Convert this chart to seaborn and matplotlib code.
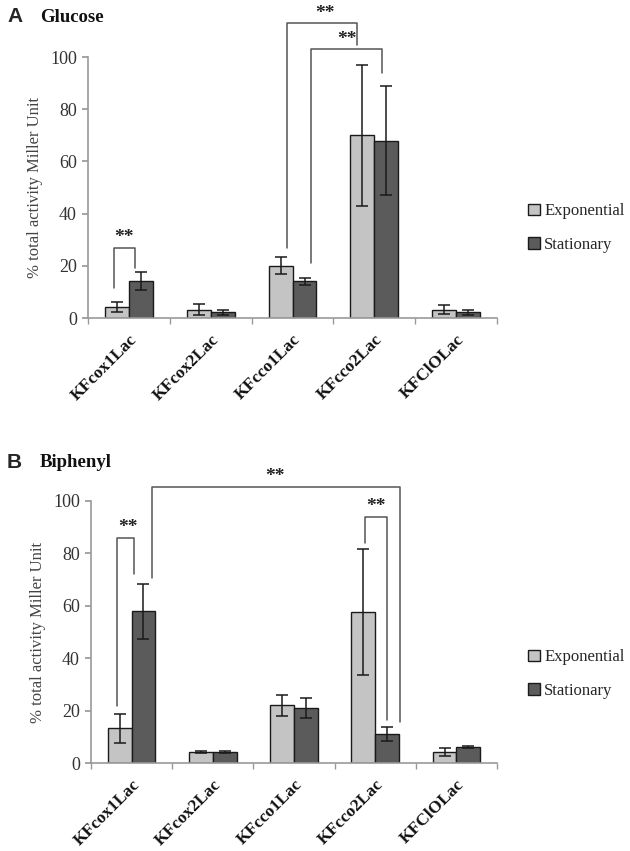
import numpy as np
import pandas as pd
import matplotlib
matplotlib.use("Agg")
import matplotlib.pyplot as plt
import seaborn as sns
from matplotlib.patches import Patch

categories = ["KFcox1Lac", "KFcox2Lac", "KFcco1Lac", "KFcco2Lac", "KFClOLac"]
phases = ["Exponential", "Stationary"]

glucose_exp = [4.2, 3.2, 20.0, 70.0, 3.2]
glucose_exp_err = [2.0, 2.2, 3.2, 27.0, 1.8]
glucose_sta = [14.2, 2.2, 14.0, 68.0, 2.2]
glucose_sta_err = [3.3, 1.0, 1.2, 21.0, 1.0]

biphenyl_exp = [13.2, 4.2, 22.0, 57.5, 4.2]
biphenyl_exp_err = [5.4, 0.5, 4.0, 24.0, 1.7]
biphenyl_sta = [58.0, 4.2, 21.0, 11.0, 6.1]
biphenyl_sta_err = [10.5, 0.5, 4.0, 2.6, 0.5]

# significance brackets: (x_left, y_left_bottom, x_right, y_right_bottom, y_top, star_x)
glucose_sig = [(-0.18, 11.5, 0.07, 19.0, 27.0, -0.06),
               (1.93, 27.0, 2.79, 104.5, 113.0, 2.40),
               (2.23, 21.0, 3.09, 94.0, 103.0, 2.67)]
biphenyl_sig = [(-0.18, 21.8, 0.03, 72.0, 86.0, -0.05),
                (0.25, 70.6, 3.30, 15.6, 105.5, 1.77),
                (2.88, 84.0, 3.14, 16.4, 94.0, 3.01)]

sns.set_theme(style="white")
plt.rcParams['font.family'] = ['Liberation Serif', 'DejaVu Serif']

colors = {"Exponential": "#c4c4c4", "Stationary": "#5b5b5b"}

fig = plt.figure(figsize=(6.3, 8.51), dpi=100)
ax1 = fig.add_axes([0.1397, 0.6263, 0.6493, 0.3067])
ax2 = fig.add_axes([0.1444, 0.1034, 0.6446, 0.3079])


def draw(ax, exp, exp_err, sta, sta_err, sig, legend_y):
    df = pd.DataFrame({
        "cat": categories * 2,
        "phase": [phases[0]] * len(categories) + [phases[1]] * len(categories),
        "val": list(exp) + list(sta),
    })
    sns.barplot(data=df, x="cat", y="val", hue="phase", order=categories,
                hue_order=phases, palette=colors, width=0.585, gap=0,
                errorbar=None, edgecolor="#1a1a1a", linewidth=1.0, ax=ax,
                legend=False)
    errs = list(exp_err) + list(sta_err)
    vals = list(exp) + list(sta)
    for p, v, e in zip(list(ax.patches), vals, errs):
        xc = p.get_x() + p.get_width() / 2
        ax.errorbar(xc, v, yerr=e, color="#1a1a1a", capsize=4, elinewidth=1.1,
                    capthick=1.1, fmt="none", zorder=5)
    ax.set_ylim(0, 100)
    ax.set_xlim(-0.5, 4.5)
    ax.set_yticks([0, 20, 40, 60, 80, 100])
    ax.set_xticks(np.arange(len(categories)))
    ax.set_xticklabels(categories, rotation=45, ha="right",
                       rotation_mode="anchor", fontweight="bold",
                       fontsize=12.5, color="#111111")
    ax.set_xticks(np.arange(-0.5, len(categories)), minor=True)
    ax.tick_params(axis="x", which="major", length=0, pad=10)
    ax.tick_params(axis="x", which="minor", length=4, color="#999999",
                   direction="out", bottom=True)
    ax.tick_params(axis="y", length=4, color="#999999", direction="out",
                   left=True, labelsize=13, labelcolor="#333333", pad=4)
    for s in ["top", "right"]:
        ax.spines[s].set_visible(False)
    for s in ["left", "bottom"]:
        ax.spines[s].set_color("#999999")
        ax.spines[s].set_linewidth(1.2)
    ax.set_xlabel("")
    ax.set_ylabel("% total activity Miller Unit", fontsize=12,
                  color="#444444", labelpad=5)
    for xl, yl, xr, yr, yt, sx in sig:
        ax.plot([xl, xl, xr, xr], [yl, yt, yt, yr], color="#555555",
                lw=1.1, clip_on=False, zorder=6)
        ax.text(sx, yt + 0.5, "**", ha="center", va="bottom", fontsize=14,
                fontweight="bold", color="#222222", clip_on=False)
    handles = [Patch(facecolor=colors[p], edgecolor="#1a1a1a", label=p)
               for p in phases]
    fig.legend(handles=handles, loc="center left",
               bbox_to_anchor=(0.828, legend_y), frameon=False,
               fontsize=12, handlelength=0.7, handleheight=0.7,
               handletextpad=0.25, labelspacing=1.05, borderaxespad=0)


draw(ax1, glucose_exp, glucose_exp_err, glucose_sta, glucose_sta_err,
     glucose_sig, 1 - 228 / 851)
draw(ax2, biphenyl_exp, biphenyl_exp_err, biphenyl_sta, biphenyl_sta_err,
     biphenyl_sig, 1 - 674 / 851)

for letter, title, ypix in [("A", "Glucose", 17), ("B", "Biphenyl", 462)]:
    fig.text(7 / 630, 1 - ypix / 851, letter, fontsize=15, fontweight="bold",
             family="Liberation Sans", va="center", ha="left")
    fig.text(40 / 630, 1 - ypix / 851, title, fontsize=13.5, fontweight="bold",
             va="center", ha="left", color="#111111")

fig.savefig("out.png", dpi=100)
